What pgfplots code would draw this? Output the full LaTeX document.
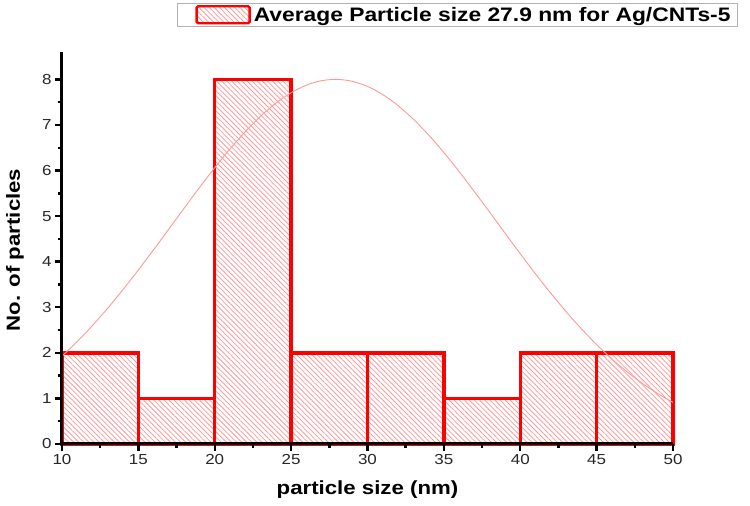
\documentclass[border=0pt]{standalone}
\usepackage{pgfplots}
\pgfplotsset{compat=1.18}
\usepackage{fontspec}
\setmainfont{Liberation Sans}[FakeStretch=1.17]
\usetikzlibrary{patterns.meta}
\begin{document}
\begin{tikzpicture}
\begin{axis}[
  scale only axis, width=611pt, height=392pt,
  xmin=10, xmax=50, ymin=0, ymax=8.6,
  axis x line*=bottom, axis y line*=left,
  axis line style={line width=3pt, black},
  axis on top, clip=false,
  xtick={10,15,...,50}, ytick={0,1,...,8},
  minor x tick num=1, minor y tick num=1,
  tick align=outside, major tick length=7pt, minor tick length=4pt,
  every tick/.style={black, line width=2.4pt},
  tick label style={font=\fontsize{14.5}{14.5}\selectfont, text=black!85},
  /pgf/number format/assume math mode=true,
  xlabel={particle size (nm)}, ylabel={No. of particles},
  label style={font=\bfseries\fontsize{19}{19}\selectfont},
  xlabel style={at={(axis description cs:0.5,-0.117)}, anchor=center},
  ylabel style={at={(axis description cs:-0.077,0.495)}, anchor=center},
  legend style={at={(axis description cs:1.1064,1.125)}, anchor=north east,
    draw=gray!60, line width=0.9pt, font=\bfseries\fontsize{19.5}{19.5}\selectfont,
    inner xsep=4pt, inner ysep=1.5pt, nodes={inner xsep=3pt, inner ysep=2pt}},
  legend cell align=left,
]
\addplot[ybar interval, draw=red, line width=3.4pt,
  pattern={Lines[angle=-45,distance=3.6pt,line width=0.8pt]}, pattern color=red!40,
  legend image code/.code={\path (0pt,0pt);
     \draw[red, line width=2.4pt, rounded corners=1.5pt,
     pattern={Lines[angle=-45,distance=3.6pt,line width=0.8pt]}, pattern color=red!40]
     (13pt,-8.5pt) rectangle (66pt,8.5pt);}]
coordinates {(10,2) (15,1) (20,8) (25,2) (30,2) (35,1) (40,2) (45,2) (50,2)};
\addlegendentry{Average Particle size 27.9 nm for Ag/CNTs-5}
\addplot[smooth, red!40, line width=0.9pt, no marks, forget plot]
coordinates {
(10,1.926) (11,2.248) (12,2.601) (13,2.982) (14,3.390) (15,3.818) (16,4.263)
(17,4.718) (18,5.175) (19,5.626) (20,6.062) (21,6.475) (22,6.853) (23,7.190)
(24,7.477) (25,7.707) (26,7.873) (27,7.971) (28,8.000) (29,7.957) (30,7.845)
(31,7.666) (32,7.424) (33,7.126) (34,6.781) (35,6.394) (36,5.977) (37,5.536)
(38,5.084) (39,4.627) (40,4.174) (41,3.731) (42,3.307) (43,2.904) (44,2.528)
(45,2.181) (46,1.865) (47,1.581) (48,1.328) (49,1.106) (50,0.913)};
\end{axis}
\pgfresetboundingbox
\path (-62pt,-62pt) rectangle (688pt,444pt);
\end{tikzpicture}
\end{document}
